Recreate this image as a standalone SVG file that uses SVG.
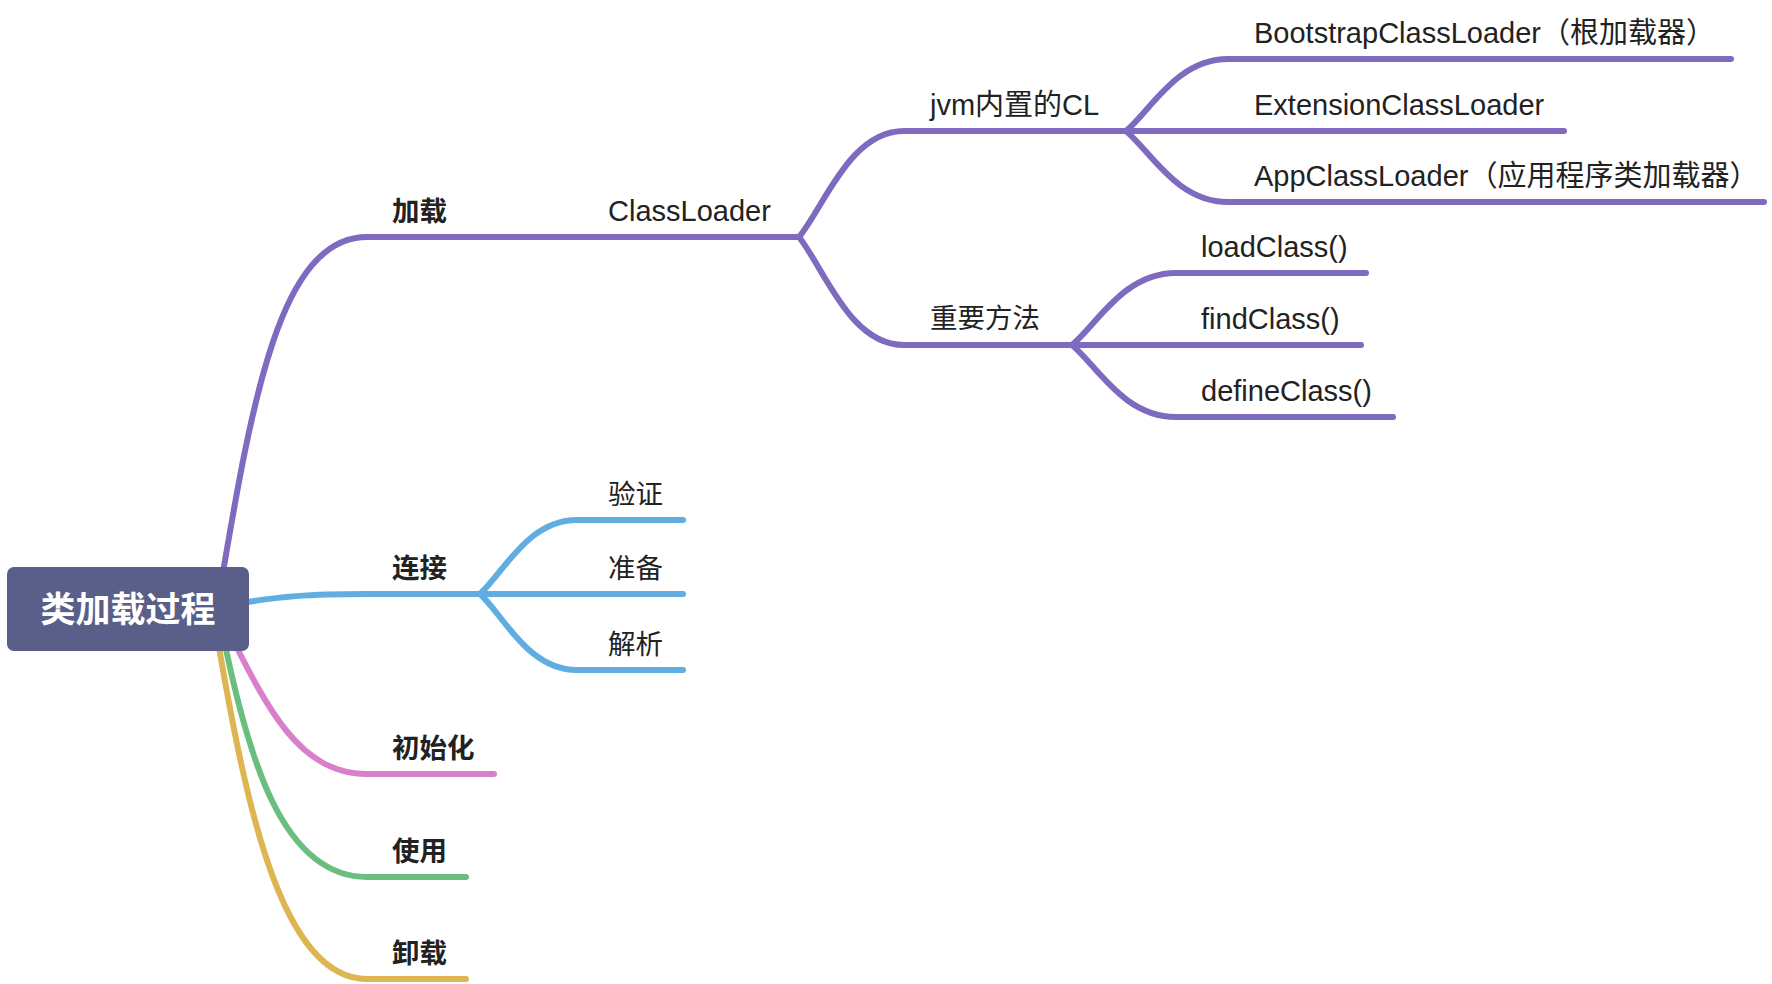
<svg xmlns="http://www.w3.org/2000/svg" width="1772" height="984" viewBox="0 0 1772 984">
<style>
.ln{fill:none;stroke-width:6;stroke-linecap:round;stroke-linejoin:round}
.p{stroke:#7e6bc0}
.b{stroke:#60ade2}
.k{stroke:#da7fcb}
.g{stroke:#6bbf7e}
.y{stroke:#deb553}
.t{font-family:"Liberation Sans","Noto Sans CJK SC",sans-serif;font-size:29px;fill:#222}
.c{font-family:"Noto Sans CJK SC","Liberation Sans",sans-serif;font-size:27.5px;fill:#222}
.m{font-family:"Noto Sans CJK SC","Liberation Sans",sans-serif;font-size:27.5px;font-weight:bold;fill:#222}
.r{font-family:"Noto Sans CJK SC","Liberation Sans",sans-serif;font-size:35px;font-weight:bold;fill:#fff}
</style>
<rect width="1772" height="984" fill="#fff"/>
<g id="connectors">
<path class="ln p" d="M220 590 C252 400 280 237 367 237 L799 237"/>
<path class="ln p" d="M799 237 C825 205 850 131 904 131 L1126 131"/>
<path class="ln p" d="M799 237 C825 270 850 345 904 345 L1072 345"/>
<path class="ln p" d="M1126 131 C1151 110 1177 59 1228 59 L1731 59"/>
<path class="ln p" d="M1126 131 L1564 131"/>
<path class="ln p" d="M1126 131 C1151 152 1177 202 1228 202 L1764 202"/>
<path class="ln p" d="M1072 345 C1098 323 1124 273 1176 273 L1366 273"/>
<path class="ln p" d="M1072 345 L1361 345"/>
<path class="ln p" d="M1072 345 C1098 367 1124 417 1176 417 L1393 417"/>
<path class="ln b" d="M230 605 C280 596 310 594 367 594 L480 594"/>
<path class="ln b" d="M480 594 C504 572 528 520 577 520 L683 520"/>
<path class="ln b" d="M480 594 L683 594"/>
<path class="ln b" d="M480 594 C504 616 528 670 577 670 L683 670"/>
<path class="ln y" d="M216 630 C245 800 280 979 367 979 L466 979"/>
<path class="ln g" d="M222 630 C248 760 283 877 367 877 L466 877"/>
<path class="ln k" d="M228 630 C268 710 300 774 367 774 L494 774"/>
</g>
<g id="root">
<rect x="7" y="567" width="242" height="84" rx="7" fill="#595f88"/>
<text class="r" x="128" y="622" text-anchor="middle">类加载过程</text>
</g>
<g id="n-jiazai"><text class="m" x="392" y="221">加载</text></g>
<g id="n-classloader"><text class="t" x="608" y="221">ClassLoader</text></g>
<g id="n-jvm"><text class="t" x="930" y="115">jvm内置的CL</text></g>
<g id="n-bootstrap"><text class="t" x="1254" y="43">BootstrapClassLoader（根加载器）</text></g>
<g id="n-extension"><text class="t" x="1254" y="115">ExtensionClassLoader</text></g>
<g id="n-app"><text class="t" x="1254" y="186">AppClassLoader（应用程序类加载器）</text></g>
<g id="n-methods"><text class="c" x="930" y="328">重要方法</text></g>
<g id="n-loadclass"><text class="t" x="1201" y="257">loadClass()</text></g>
<g id="n-findclass"><text class="t" x="1201" y="329">findClass()</text></g>
<g id="n-defineclass"><text class="t" x="1201" y="401">defineClass()</text></g>
<g id="n-lianjie"><text class="m" x="392" y="578">连接</text></g>
<g id="n-yanzheng"><text class="c" x="608" y="504">验证</text></g>
<g id="n-zhunbei"><text class="c" x="608" y="578">准备</text></g>
<g id="n-jiexi"><text class="c" x="608" y="654">解析</text></g>
<g id="n-init"><text class="m" x="392" y="758">初始化</text></g>
<g id="n-use"><text class="m" x="392" y="861">使用</text></g>
<g id="n-unload"><text class="m" x="392" y="963">卸载</text></g>
</svg>
